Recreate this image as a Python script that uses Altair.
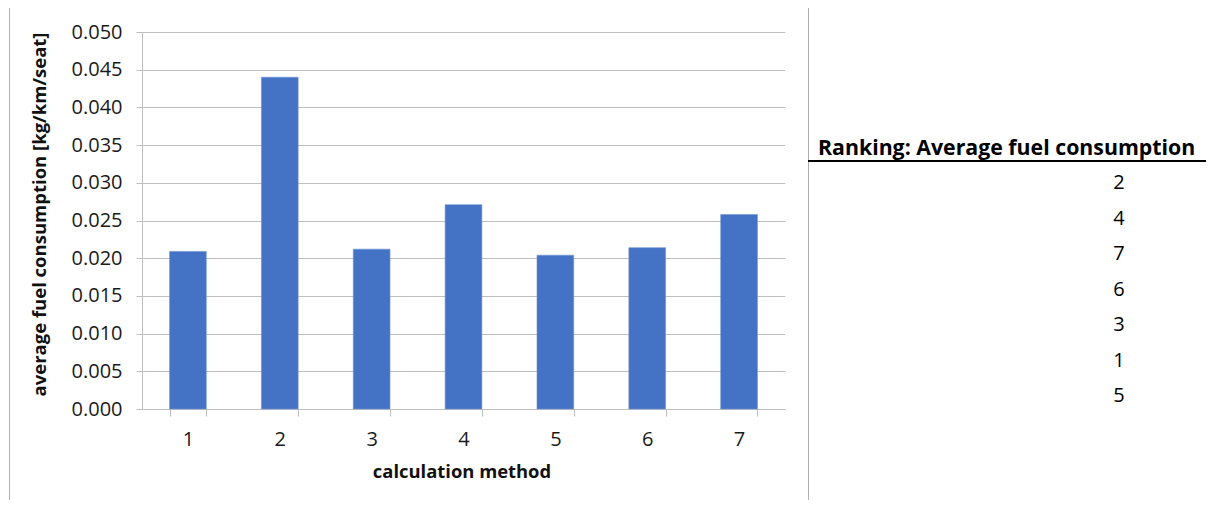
import altair as alt
import pandas as pd

methods = [1, 2, 3, 4, 5, 6, 7]
fuel = [0.0209, 0.0440, 0.0212, 0.0271, 0.0204, 0.0214, 0.0258]
y_ticks = [0.000, 0.005, 0.010, 0.015, 0.020, 0.025, 0.030, 0.035, 0.040, 0.045, 0.050]
ranking_title = "Ranking: Average fuel consumption"
ranking = [2, 4, 7, 6, 3, 1, 5]

FONT = "Open Sans"
GRID = "#bfbfbf"

bars_df = pd.DataFrame({"method": methods, "fuel": fuel})
rank_df = pd.DataFrame({"row": list(range(len(ranking))), "rank": ranking})
one = pd.DataFrame({"k": [0]})

bars = alt.Chart(bars_df).mark_bar(color="#4472C4", stroke="#6f93d6", strokeWidth=0.6).encode(
    x=alt.X(
        "method:O",
        scale=alt.Scale(paddingInner=0.6, paddingOuter=0.3),
        axis=alt.Axis(
            title="calculation method",
            labelAngle=0,
            tickBand="extent",
            tickSize=7,
            tickColor=GRID,
            domainColor=GRID,
            labelPadding=13,
            labelFontSize=20,
            labelColor="#1a1a1a",
            titleFontSize=18.4,
            titleFontWeight="bold",
            titleColor="#111",
            titleX=319.5,
            titleY=68,
            titleAlign="center",
            titleBaseline="alphabetic",
            grid=False,
        ),
    ),
    y=alt.Y(
        "fuel:Q",
        scale=alt.Scale(domain=[0, 0.05], nice=False, zero=True),
        axis=alt.Axis(
            title="average fuel consumption [kg/km/seat]",
            values=y_ticks,
            format=".3f",
            grid=True,
            gridColor=GRID,
            tickColor=GRID,
            domainColor=GRID,
            tickSize=6,
            labelPadding=14,
            labelFontSize=20,
            labelColor="#1a1a1a",
            titleFontSize=18.5,
            titleFontWeight="bold",
            titleColor="#111",
            titleX=-97,
            titleY=182,
            titleAngle=-90,
            titleAlign="center",
            titleBaseline="alphabetic",
        ),
    ),
)

border = alt.Chart(one).mark_rect(fillOpacity=0, stroke="#b0b0b0", strokeWidth=1).encode(
    x=alt.value(-132.5), x2=alt.value(666.5), y=alt.value(-24.5), y2=alt.value(520)
)

header = alt.Chart(one).mark_text(
    text=ranking_title, font=FONT, fontSize=21.3, fontWeight="bold", align="left", baseline="alphabetic", color="#000"
).encode(x=alt.value(676), y=alt.value(123))

header_rule = alt.Chart(one).mark_rule(color="#000", strokeWidth=2).encode(
    x=alt.value(666), x2=alt.value(1072), y=alt.value(129)
)

rank_text = alt.Chart(rank_df).mark_text(
    font=FONT, fontSize=20, align="center", baseline="middle", color="#000"
).encode(
    x=alt.value(977),
    y=alt.Y("row:O", scale=alt.Scale(range=[151, 364], padding=0, type="point"), axis=None),
    text=alt.Text("rank:N"),
)

chart = (
    alt.layer(border, bars, header, header_rule, rank_text)
    .resolve_scale(y="independent")
    .properties(
        width=643,
        height=377,
        autosize=alt.AutoSizeParams(type="none"),
        padding={"left": 134, "top": 24, "right": 421, "bottom": 91},
    )
    .configure_view(stroke=None)
    .configure_axis(labelFont=FONT, titleFont=FONT)
    .configure_text(font=FONT)
)

chart.save("out.html", embed_options={"renderer": "svg", "actions": False})
